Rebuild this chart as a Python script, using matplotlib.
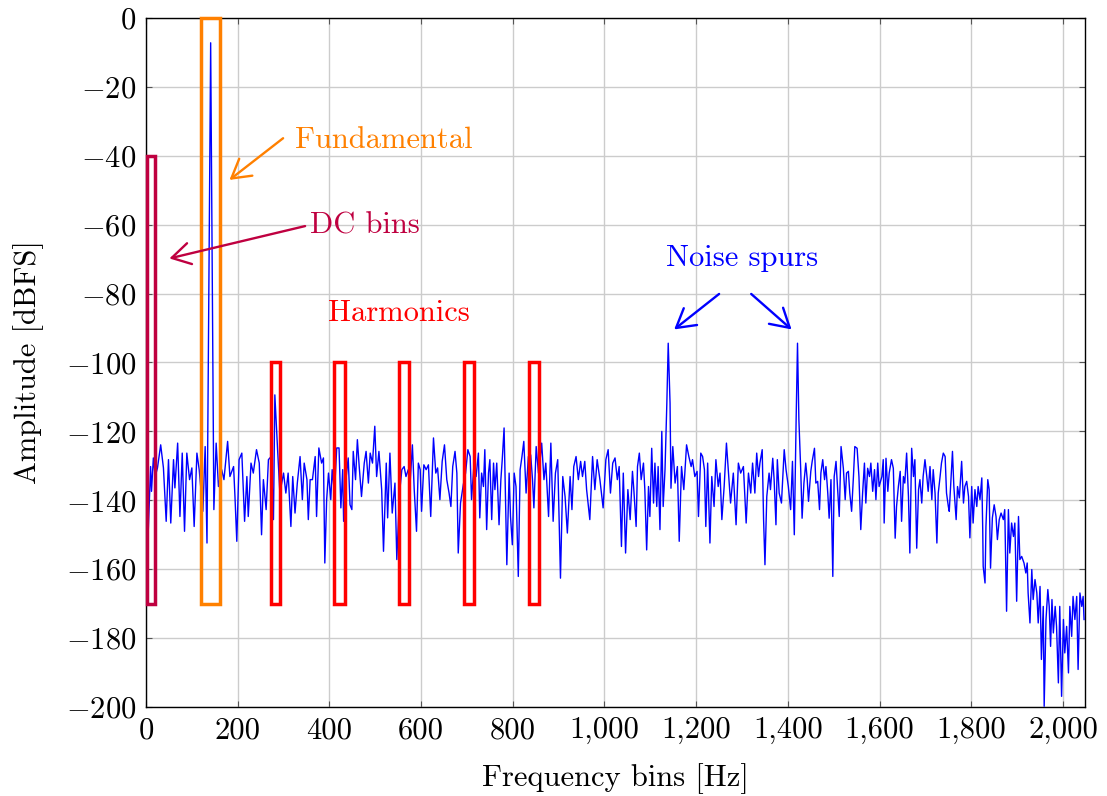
import matplotlib
matplotlib.use("Agg")
import matplotlib.pyplot as plt
from matplotlib.patches import Rectangle

plt.rcParams['font.family'] = 'serif'
plt.rcParams['font.serif'] = ['cmr10', 'DejaVu Serif']
plt.rcParams['mathtext.fontset'] = 'cm'
plt.rcParams['axes.unicode_minus'] = False
plt.rcParams['font.size'] = 22

# spectrum points (bin, dBFS)
bins = [0, 5, 10, 12, 16, 20, 25, 32, 38, 44, 49, 54, 60, 63, 69, 74, 79, 84, 89, 95,
        100, 105, 111, 116, 124, 129, 133, 141, 148, 153, 158, 165, 170, 178, 183, 191,
        194, 198, 203, 209, 215, 220, 223, 229, 234, 241, 247, 252, 256, 262, 267, 273,
        278, 281, 287, 292, 300, 305, 310, 316, 320, 325, 330, 336, 341, 345, 351, 354,
        358, 363, 369, 372, 377, 383, 387, 390, 394, 398, 403, 406, 411, 416, 421, 425,
        429, 431, 436, 441, 445, 449, 452, 457, 461, 465, 470, 476, 480, 485, 489, 494,
        499, 503, 508, 514, 518, 524, 527, 532, 537, 543, 547, 553, 558, 563, 567, 572,
        576, 581, 585, 590, 594, 598, 601, 606, 611, 616, 621, 627, 632, 636, 641, 646,
        651, 656, 661, 665, 669, 674, 678, 681, 686, 692, 697, 702, 707, 710, 715, 720,
        725, 728, 732, 736, 739, 743, 747, 750, 754, 758, 761, 765, 770, 774, 777, 781,
        784, 787, 792, 795, 799, 803, 807, 812, 816, 820, 824, 829, 834, 839, 843, 846,
        851, 856, 859, 863, 868, 872, 878, 883, 888, 893, 898, 904, 909, 914, 919, 925,
        929, 933, 938, 943, 948, 952, 957, 961, 968, 974, 979, 984, 990, 997, 1003, 1008,
        1013, 1018, 1023, 1028, 1032, 1037, 1041, 1046, 1051, 1056, 1061, 1064, 1069,
        1072, 1076, 1080, 1085, 1088, 1092, 1096, 1099, 1103, 1107, 1110, 1114, 1117,
        1121, 1125, 1128, 1132, 1136, 1139, 1143, 1145, 1149, 1154, 1159, 1163, 1168,
        1173, 1179, 1184, 1189, 1192, 1197, 1202, 1205, 1210, 1214, 1218, 1221, 1225,
        1230, 1234, 1239, 1243, 1248, 1252, 1256, 1261, 1266, 1270, 1275, 1281, 1287,
        1292, 1297, 1303, 1309, 1314, 1319, 1323, 1328, 1332, 1336, 1339, 1344, 1347,
        1350, 1354, 1359, 1362, 1367, 1370, 1374, 1377, 1381, 1386, 1392, 1396, 1401,
        1406, 1410, 1414, 1418, 1421, 1424, 1428, 1431, 1435, 1439, 1442, 1445, 1450,
        1453, 1458, 1461, 1465, 1469, 1472, 1476, 1480, 1483, 1487, 1490, 1494, 1498,
        1501, 1505, 1509, 1512, 1516, 1521, 1525, 1528, 1532, 1535, 1539, 1543, 1546,
        1551, 1555, 1559, 1563, 1567, 1570, 1574, 1578, 1581, 1585, 1589, 1592, 1596,
        1599, 1605, 1608, 1610, 1614, 1618, 1621, 1626, 1630, 1634, 1637, 1641, 1645,
        1648, 1652, 1655, 1659, 1663, 1666, 1670, 1674, 1677, 1681, 1685, 1688, 1692,
        1695, 1699, 1703, 1706, 1710, 1714, 1717, 1721, 1725, 1728, 1732, 1735, 1739,
        1743, 1746, 1750, 1752, 1756, 1759, 1762, 1767, 1770, 1774, 1779, 1783, 1786,
        1790, 1794, 1797, 1801, 1804, 1808, 1812, 1815, 1819, 1823, 1825, 1826, 1830,
        1832, 1836, 1839, 1842, 1846, 1850, 1854, 1857, 1861, 1865, 1870, 1873, 1877,
        1881, 1884, 1888, 1892, 1895, 1899, 1903, 1906, 1910, 1915, 1919, 1922, 1924,
        1928, 1932, 1935, 1939, 1943, 1946, 1950, 1953, 1957, 1959, 1963, 1967, 1970,
        1973, 1976, 1979, 1983, 1986, 1990, 1993, 1997, 2001, 2004, 2008, 2012, 2015,
        2019, 2022, 2026, 2030, 2033, 2037, 2041, 2044, 2046]

amp_db = [-77.0, -148.5, -130.2, -137.4, -127.7, -133.1, -130.6, -123.9, -130.6, -146.1,
          -128.2, -146.6, -128.2, -136.4, -123.4, -144.7, -126.3, -149.0, -126.3, -134.0,
          -130.6, -147.6, -126.3, -131.1, -143.2, -124.4, -152.4, -7.2, -142.7, -123.4,
          -136.0, -131.1, -134.0, -122.9, -133.1, -130.2, -138.9, -151.9, -128.2, -126.3,
          -146.1, -133.1, -144.7, -129.2, -132.1, -125.3, -129.2, -150.0, -134.0, -142.7,
          -128.2, -127.3, -145.6, -109.4, -125.3, -137.9, -132.1, -137.9, -132.1, -147.6,
          -133.1, -143.7, -135.0, -127.3, -139.8, -129.2, -134.0, -145.6, -134.0, -134.0,
          -127.3, -144.7, -124.8, -129.2, -127.7, -158.2, -139.8, -132.1, -139.8, -131.1,
          -137.9, -124.8, -124.8, -142.2, -131.1, -146.1, -134.0, -127.7, -141.3, -142.7,
          -125.8, -134.0, -122.4, -130.2, -138.9, -129.2, -125.8, -135.0, -126.3, -129.2,
          -118.5, -133.1, -125.8, -136.9, -154.8, -129.2, -145.1, -126.3, -143.7, -135.0,
          -157.2, -137.9, -131.1, -130.2, -133.1, -131.1, -135.0, -123.9, -136.9, -149.0,
          -129.2, -131.1, -143.2, -129.7, -131.1, -129.7, -144.7, -121.9, -132.1, -130.6,
          -139.8, -128.7, -123.9, -134.0, -137.9, -141.8, -130.2, -125.8, -132.1, -155.3,
          -140.8, -135.5, -132.1, -125.3, -127.3, -139.8, -130.2, -133.1, -126.3, -145.1,
          -132.1, -136.0, -125.3, -148.5, -132.1, -128.2, -145.6, -129.2, -136.9, -129.2,
          -147.1, -134.0, -128.2, -119.0, -138.9, -158.7, -132.1, -144.7, -152.9, -132.1,
          -136.0, -162.1, -131.1, -127.3, -122.9, -137.9, -127.3, -126.8, -134.0, -142.2,
          -124.4, -132.1, -129.2, -123.4, -134.0, -129.2, -144.7, -123.4, -146.1, -132.1,
          -128.2, -162.6, -133.1, -138.9, -149.5, -133.1, -142.7, -130.2, -127.3, -134.0,
          -128.7, -133.1, -128.7, -136.9, -145.6, -127.3, -136.9, -128.2, -134.0, -142.2,
          -128.2, -125.3, -137.9, -129.2, -127.7, -134.0, -130.2, -153.4, -132.1, -155.3,
          -136.9, -145.6, -131.6, -136.9, -147.6, -130.2, -126.3, -134.0, -129.2, -136.9,
          -154.4, -136.0, -144.7, -124.9, -140.8, -129.2, -141.8, -130.2, -148.5, -120.0,
          -141.8, -131.1, -111.8, -94.4, -111.8, -136.5, -124.4, -135.0, -130.2, -151.9,
          -130.2, -136.9, -123.9, -127.3, -130.2, -128.2, -133.1, -131.6, -144.7, -126.3,
          -127.3, -131.1, -147.6, -129.2, -152.4, -133.1, -141.8, -128.2, -136.0, -132.1,
          -145.6, -136.0, -123.4, -131.1, -140.8, -132.1, -147.1, -129.2, -132.1, -130.2,
          -146.6, -132.1, -137.9, -129.2, -137.9, -126.3, -133.1, -129.2, -125.3, -145.6,
          -158.7, -138.9, -132.1, -136.9, -127.8, -134.0, -147.1, -128.2, -137.9, -140.8,
          -125.3, -131.1, -136.0, -142.7, -128.7, -150.0, -116.6, -94.4, -116.6, -131.1,
          -145.2, -135.0, -129.2, -133.6, -140.3, -131.6, -128.7, -124.9, -135.0, -134.5,
          -142.7, -132.1, -128.2, -134.0, -130.2, -137.9, -145.2, -134.0, -162.1, -133.1,
          -128.7, -137.9, -144.7, -124.4, -130.7, -139.8, -132.1, -131.6, -137.9, -143.2,
          -133.1, -124.4, -124.9, -133.1, -148.5, -137.9, -129.2, -140.8, -130.7, -133.1,
          -129.2, -137.4, -131.1, -139.8, -129.2, -136.0, -133.1, -128.2, -146.6, -127.8,
          -137.4, -132.1, -128.2, -130.7, -151.0, -141.8, -136.0, -131.6, -146.1, -133.1,
          -135.0, -126.3, -138.9, -155.3, -124.9, -133.1, -128.2, -153.9, -136.9, -134.0,
          -140.8, -133.1, -128.2, -133.1, -137.4, -130.2, -139.8, -131.1, -137.9, -152.4,
          -137.9, -133.1, -129.2, -126.3, -127.3, -137.9, -141.8, -143.2, -133.1, -125.8,
          -136.0, -145.6, -136.0, -139.3, -128.7, -140.8, -136.0, -134.5, -138.9, -150.9,
          -136.0, -146.6, -136.9, -141.8, -136.0, -139.8, -133.5, -148.5, -159.2, -164.0,
          -147.6, -134.0, -136.9, -159.7, -145.1, -141.3, -144.7, -151.4, -145.6, -143.7,
          -145.6, -142.7, -172.2, -142.7, -155.3, -146.6, -150.5, -146.6, -169.3, -144.7,
          -157.2, -156.3, -158.2, -161.1, -158.2, -166.9, -175.6, -160.1, -168.8, -163.0,
          -166.9, -175.6, -165.0, -186.2, -170.8, -199.8, -174.6, -165.9, -170.8, -182.4,
          -168.8, -178.5, -170.8, -176.6, -193.0, -170.8, -196.9, -174.6, -184.3, -176.6,
          -190.1, -170.8, -179.5, -167.9, -174.6, -167.9, -189.1, -166.9, -170.8, -167.9,
          -174.6]

# highlighted regions: (left bin, right bin, bottom dB, top dB)
box_left = [2, 121, 272, 411, 552, 694, 835]
box_right = [19, 161, 293, 433, 574, 716, 857]
box_bottom = [-170, -170, -170, -170, -170, -170, -170]
box_top = [-40, 0, -100, -100, -100, -100, -100]
box_colors = ['#BF0040', '#FF8000', 'red', 'red', 'red', 'red', 'red']

fig = plt.figure(figsize=(11.07, 7.96), dpi=100)
ax = fig.add_axes([0.1319, 0.1118, 0.8482, 0.8656])

ax.plot(bins, amp_db, color='blue', lw=1.0, zorder=3)

for x0, x1, y0, y1, c in zip(box_left, box_right, box_bottom, box_top, box_colors):
    ax.add_patch(Rectangle((x0, y0), x1 - x0, y1 - y0, fill=False, edgecolor=c,
                           lw=2.5, zorder=4, clip_on=False))

ax.set_xlim(0, 2048)
ax.set_ylim(-200, 0)

xt = list(range(0, 2001, 200))
ax.set_xticks(xt)
ax.set_xticklabels([f"{v:,}" for v in xt])
yt = list(range(-200, 1, 20))
ax.set_yticks(yt)
ax.set_yticklabels([f"${v}$" if v < 0 else "$0$" for v in yt])

ax.grid(True, color='#cccccc', lw=1)
ax.set_axisbelow(True)
ax.tick_params(direction='in', length=4, width=0.8, color='#555555',
               top=True, right=True, labelsize=22, pad=7)
for s in ax.spines.values():
    s.set_linewidth(1)

ax.set_xlabel('Frequency bins [Hz]', fontsize=22)
ax.set_ylabel('Amplitude [dBFS]', fontsize=22)
ax.xaxis.set_label_coords(0.4995, -0.081)
ax.yaxis.set_label_coords(-0.109, 0.5)

arrow = dict(arrowstyle='->,head_length=0.6,head_width=0.35', lw=1.7, shrinkA=0, shrinkB=0)

ax.annotate('', xy=(182, -47), xytext=(299, -34.9),
            arrowprops=dict(arrow, color='#FF8000'), zorder=5)
ax.text(325, -35.4, 'Fundamental', color='#FF8000', ha='left', va='center', fontsize=22)

ax.annotate('', xy=(51, -69.8), xytext=(347, -60.4),
            arrowprops=dict(arrow, color='#BF0040'), zorder=5)
ax.text(358, -60.4, 'DC bins', color='#BF0040', ha='left', va='center', fontsize=22)

ax.text(551, -85.6, 'Harmonics', color='red', ha='center', va='center', fontsize=22)

ax.text(1300, -69.7, 'Noise spurs', color='blue', ha='center', va='center', fontsize=22)
ax.annotate('', xy=(1152, -90.4), xytext=(1250, -80.1),
            arrowprops=dict(arrow, color='blue'), zorder=5)
ax.annotate('', xy=(1408, -90.4), xytext=(1320, -80.1),
            arrowprops=dict(arrow, color='blue'), zorder=5)

fig.savefig('out.png', dpi=100)
